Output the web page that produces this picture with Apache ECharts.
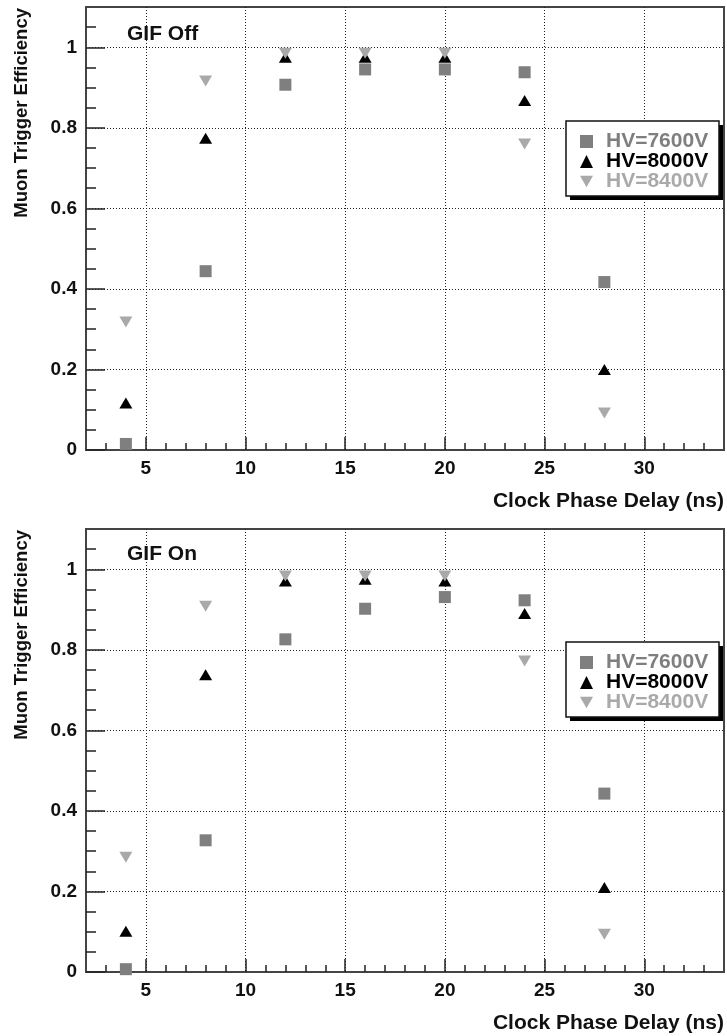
<!DOCTYPE html>
<html>
<head>
<meta charset="utf-8">
<script src="https://cdn.jsdelivr.net/npm/echarts@6/dist/echarts.min.js"></script>
<style>
html,body{margin:0;padding:0;background:#fff;}
#chart{width:727px;height:1036px;}
</style>
</head>
<body>
<div id="chart"></div>
<script>
// ---- data ----
const delays = [4, 8, 12, 16, 20, 24, 28];
const seriesNames = ['HV=7600V', 'HV=8000V', 'HV=8400V'];
const panelTitles = ['GIF Off', 'GIF On'];
// GIF Off
const off7600 = [0.015, 0.444, 0.907, 0.945, 0.945, 0.938, 0.417];
const off8000 = [0.117, 0.774, 0.975, 0.975, 0.975, 0.868, 0.200];
const off8400 = [0.318, 0.916, 0.985, 0.985, 0.985, 0.760, 0.092];
// GIF On
const on7600 = [0.007, 0.327, 0.826, 0.902, 0.931, 0.923, 0.443];
const on8000 = [0.101, 0.738, 0.971, 0.975, 0.971, 0.890, 0.210];
const on8400 = [0.285, 0.908, 0.983, 0.983, 0.983, 0.772, 0.094];
// tick values
const xMajorTicks = [5, 10, 15, 20, 25, 30];
const xMinorTicks = [3,4,5,6,7,8,9,10,11,12,13,14,15,16,17,18,19,20,21,22,23,24,25,26,27,28,29,30,31,32,33];
const yMajorTicks = [0, 0.2, 0.4, 0.6, 0.8, 1];
const yMinorTicks = [0.05,0.1,0.15,0.2,0.25,0.3,0.35,0.4,0.45,0.5,0.55,0.6,0.65,0.7,0.75,0.8,0.85,0.9,0.95,1,1.05];
const xTitle = 'Clock Phase Delay (ns)';
const yTitle = 'Muon Trigger Efficiency';

const FONT = '"Liberation Sans", Arial, Helvetica, sans-serif';
const colors = ['#7f7f7f', '#000000', '#a9a9a9'];
const symbols = ['rect', 'triangle', 'path://M0,0 L10,0 L5,9 Z'];
const symbolSizes = [12, [13, 11], [13, 11]];

const panels = [
  { top: 7, data: [off7600, off8000, off8400], legendTop: 121, titleTop: 24 },
  { top: 529, data: [on7600, on8000, on8400], legendTop: 642, titleTop: 544 }
];
const GRID_LEFT = 86, GRID_W = 638, GRID_H = 443;
const LEG_LEFT = 566, LEG_W = 153, LEG_H = 75, SHADOW = 4;

const grids = [], xAxes = [], yAxes = [], series = [], legends = [], titles = [], graphics = [];
panels.forEach((p, i) => {
  grids.push({
    left: GRID_LEFT, top: p.top, width: GRID_W, height: GRID_H,
    show: true, borderColor: '#444', borderWidth: 2,
    containLabel: false, outerBoundsMode: 'none'
  });
  xAxes.push({
    gridIndex: i, type: 'value', min: 2, max: 34,
    axisLine: { show: true, onZero: false, lineStyle: { color: '#444', width: 2 } },
    axisTick: { show: true, inside: true, length: 13, customValues: xMajorTicks, lineStyle: { color: '#222', width: 1.5 } },
    axisLabel: { show: true, customValues: xMajorTicks, margin: 9, fontSize: 19, fontWeight: 'bold', color: '#111', fontFamily: FONT },
    splitLine: { show: true, lineStyle: { type: [1, 2], color: '#222', width: 1 } },
    name: xTitle, nameLocation: 'end', nameGap: 0, nameMoveOverlap: false,
    nameTextStyle: { align: 'right', verticalAlign: 'top', padding: [41, 0, 0, 0], fontSize: 21, fontWeight: 'bold', color: '#111', fontFamily: FONT }
  });
  xAxes.push({
    gridIndex: i, type: 'value', min: 2, max: 34, position: 'bottom',
    axisLine: { show: false },
    axisTick: { show: true, inside: true, length: 7, customValues: xMinorTicks, lineStyle: { color: '#222', width: 1.5 } },
    axisLabel: { show: false },
    splitLine: { show: false }
  });
  yAxes.push({
    gridIndex: i, type: 'value', min: 0, max: 1.1, interval: 0.2,
    axisLine: { show: true, onZero: false, lineStyle: { color: '#444', width: 2 } },
    axisTick: { show: true, inside: true, length: 19, customValues: yMajorTicks, lineStyle: { color: '#222', width: 1.5 } },
    axisLabel: { show: true, customValues: yMajorTicks, margin: 9, fontSize: 19, fontWeight: 'bold', color: '#111', fontFamily: FONT },
    splitLine: { show: true, lineStyle: { type: [1, 2], color: '#222', width: 1 } },
    name: yTitle, nameLocation: 'end', nameGap: -1, nameRotate: 90, nameMoveOverlap: false,
    nameTextStyle: { align: 'right', verticalAlign: 'bottom', padding: [0, 0, 55, 0], fontSize: 18.5, fontWeight: 'bold', color: '#111', fontFamily: FONT }
  });
  yAxes.push({
    gridIndex: i, type: 'value', min: 0, max: 1.1, position: 'left',
    axisLine: { show: false },
    axisTick: { show: true, inside: true, length: 10, customValues: yMinorTicks, lineStyle: { color: '#222', width: 1.5 } },
    axisLabel: { show: false },
    splitLine: { show: false }
  });
  p.data.forEach((vals, k) => {
    series.push({
      type: 'scatter', name: seriesNames[k],
      xAxisIndex: i * 2, yAxisIndex: i * 2,
      symbol: symbols[k], symbolSize: symbolSizes[k],
      itemStyle: { color: colors[k], opacity: 1 },
      emphasis: { disabled: true },
      data: delays.map((d, j) => [d, vals[j]])
    });
  });
  // legend frame + drop shadow
  graphics.push({
    type: 'rect', z: 10, silent: true,
    shape: { x: LEG_LEFT + SHADOW, y: p.legendTop + SHADOW, width: LEG_W, height: LEG_H },
    style: { fill: '#000' }
  });
  graphics.push({
    type: 'rect', z: 11, silent: true,
    shape: { x: LEG_LEFT, y: p.legendTop, width: LEG_W, height: LEG_H },
    style: { fill: '#fff', stroke: '#111', lineWidth: 1.5 }
  });
  legends.push({
    orient: 'vertical', left: LEG_LEFT, top: p.legendTop, z: 20,
    padding: [10, 8, 6, 14], itemGap: -1, itemWidth: 13, itemHeight: 13,
    selectedMode: false,
    textStyle: { fontSize: 21, lineHeight: 20, fontWeight: 'bold', fontFamily: FONT, padding: [0, 0, 0, 8] },
    data: seriesNames.map((n, k) => ({ name: n, textStyle: { color: colors[k] } }))
  });
  titles.push({
    text: panelTitles[i], left: 127, top: p.titleTop, padding: 0,
    textStyle: { fontSize: 21, fontWeight: 'bold', color: '#111', fontFamily: FONT }
  });
});

const chart = echarts.init(document.getElementById('chart'), null, { renderer: 'canvas' });
chart.setOption({
  animation: false,
  backgroundColor: '#fff',
  title: titles,
  grid: grids,
  xAxis: xAxes,
  yAxis: yAxes,
  legend: legends,
  graphic: { elements: graphics },
  series: series
});
</script>
</body>
</html>
